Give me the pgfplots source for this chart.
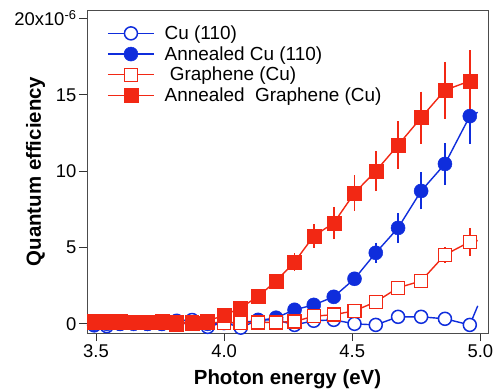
\documentclass[border=0pt]{standalone}
\usepackage{pgfplots}
\pgfplotsset{compat=1.18}
\usepackage{pgfplotstable}
\usepackage{fontspec}
\setmainfont{Liberation Sans}
\definecolor{qred}{RGB}{242,40,20}
\definecolor{qblue}{RGB}{15,45,220}
\pgfplotstableread{
x      cu     ecu  acu    eacu  gr    egr   agr   eagr
3.493 -0.10  0    0.00   0     0.10  0     0.15  0
3.542 -0.15  0    0.00   0     0.10  0     0.15  0
3.594  0.00  0    0.00   0     0.10  0     0.15  0
3.647  0.05  0    0.00   0     0.10  0     0.10  0
3.701  0.00  0    0.00   0     0.10  0     0.10  0
3.757  0.00  0    0.00   0     0.10  0     0.15  0
3.815  0.20  0    0.00   0     0.10  0     0.00  0
3.875  0.25  0    0.05   0     0.10  0     0.05  0
3.936 -0.20  0    0.00   0     0.10  0     0.20  0
4.000  0.10  0    0.05   0     0.07  0     0.55  0
4.065 -0.25  0    0.10   0     0.07  0     1.05  0
4.133  0.26  0    0.20   0     0.10  0     1.80  0
4.203  0.26  0    0.40   0     0.10  0     2.80  0
4.275 -0.07  0    0.92   0     0.15  0     4.05  0.20
4.350  0.20  0    1.24   0     0.50  0     5.75  0.40
4.428  0.26  0    1.77   0     0.60  0     6.60  0.70
4.509  0.00  0    2.95   0.10  0.85  0     8.57  0.80
4.592 -0.07  0    4.65   0.30  1.44  0     10.00 0.95
4.679  0.46  0    6.28   0.60  2.36  0     11.70 1.20
4.769  0.46  0    8.70   0.85  2.81  0     13.50 1.35
4.862  0.33  0    10.47  1.00  4.52  0.15  15.30 1.50
4.959 -0.07  0    13.60  1.45  5.37  0.55  15.90 1.65
}\data
\pgfplotstableread{
x      cu     acu    gr    agr
4.959 -0.07  13.60  5.37  15.90
4.990  1.18  13.85  5.45  16.20
}\stub
\begin{document}
\begin{tikzpicture}
\begin{axis}[
  at={(0,0)}, anchor=south west,
  scale only axis, width=401bp, height=323bp,
  xmin=3.465, xmax=5.03, ymin=-0.6, ymax=20.55,
  xtick={3.5,4.0,4.5,5.0}, ytick={0,5,10,15,20},
  yticklabels={0,5,10,15,{20x10\textsuperscript{-6}}},
  xticklabel style={/pgf/number format/.cd,fixed,fixed zerofill,precision=1,assume math mode=true},
  tick pos=left, tick align=outside, major tick length=8bp,
  tick style={black!80, line width=0.8bp},
  axis line style={black!70, line width=0.8bp},
  ticklabel style={font=\fontsize{18.5}{21}\selectfont},
  yticklabel style={xshift=1bp},
  xlabel={\bfseries Photon energy (eV)},
  ylabel={\bfseries Quantum efficiency},
  label style={font=\fontsize{20.5}{23}\selectfont},
  xlabel style={at={(axis description cs:0.5,-0.143)}, anchor=center},
  ylabel style={at={(axis description cs:-0.128,0.5)}, anchor=center},
  legend style={draw=none, fill=none, at={(0.05,0.958)}, anchor=north west,
    font=\fontsize{19}{21}\selectfont, row sep=1.5bp, inner sep=0pt,
    /tikz/every odd column/.append style={column sep=8bp}},
  legend cell align=left,
  legend image code/.code={%
    \draw[#1, mark repeat=2, mark phase=2] plot coordinates {(0bp,0bp) (23bp,0bp) (46bp,0bp)};},
  every axis plot/.append style={line width=1.4bp},
]
% line stubs at right end
\addplot[qblue, forget plot, mark=none] table[x=x,y=cu] {\stub};
\addplot[qblue, forget plot, mark=none] table[x=x,y=acu] {\stub};
\addplot[qred, forget plot, mark=none] table[x=x,y=gr] {\stub};
\addplot[qred, forget plot, mark=none] table[x=x,y=agr] {\stub};
% error bars
\addplot[qblue, forget plot, draw=none, mark=none, restrict x to domain=4.5:5,
  error bars/.cd, y dir=both, y explicit, error mark options={qblue, mark size=5.5bp, line width=1.5bp},
  error bar style={line width=1.5bp}]
  table[x=x, y=acu, y error=eacu] {\data};
\addplot[qred, forget plot, draw=none, mark=none, restrict x to domain=4.27:5,
  error bars/.cd, y dir=both, y explicit, error mark options={qred, mark size=5.5bp, line width=1.5bp},
  error bar style={line width=1.5bp}]
  table[x=x, y=agr, y error=eagr] {\data};
\addplot[qred, forget plot, draw=none, mark=none, restrict x to domain=4.85:5,
  error bars/.cd, y dir=both, y explicit, error mark options={qred, mark size=5.5bp, line width=1.5bp},
  error bar style={line width=1.5bp}]
  table[x=x, y=gr, y error=egr] {\data};
% series
\addplot[qblue, mark=*, mark size=6.5bp, mark options={fill=white, line width=1.5bp}]
  table[x=x, y=cu] {\data};
\addlegendentry{Cu (110)}
\addplot[qblue, mark=*, mark size=7bp, mark options={fill=qblue, line width=0.5bp}]
  table[x=x, y=acu] {\data};
\addlegendentry{Annealed Cu (110)}
\addplot[qred, mark=square*, mark size=6.5bp, mark options={fill=white, line width=1.5bp}]
  table[x=x, y=gr] {\data};
\addlegendentry{\ Graphene (Cu)}
\addplot[qred, mark=square*, mark size=7bp, mark options={fill=qred, line width=0.5bp}]
  table[x=x, y=agr] {\data};
\addlegendentry{Annealed\ \ Graphene (Cu)}
\end{axis}
\pgfresetboundingbox
\path[use as bounding box] (-87bp,-57bp) rectangle (406bp,333bp);
\end{tikzpicture}
\end{document}
